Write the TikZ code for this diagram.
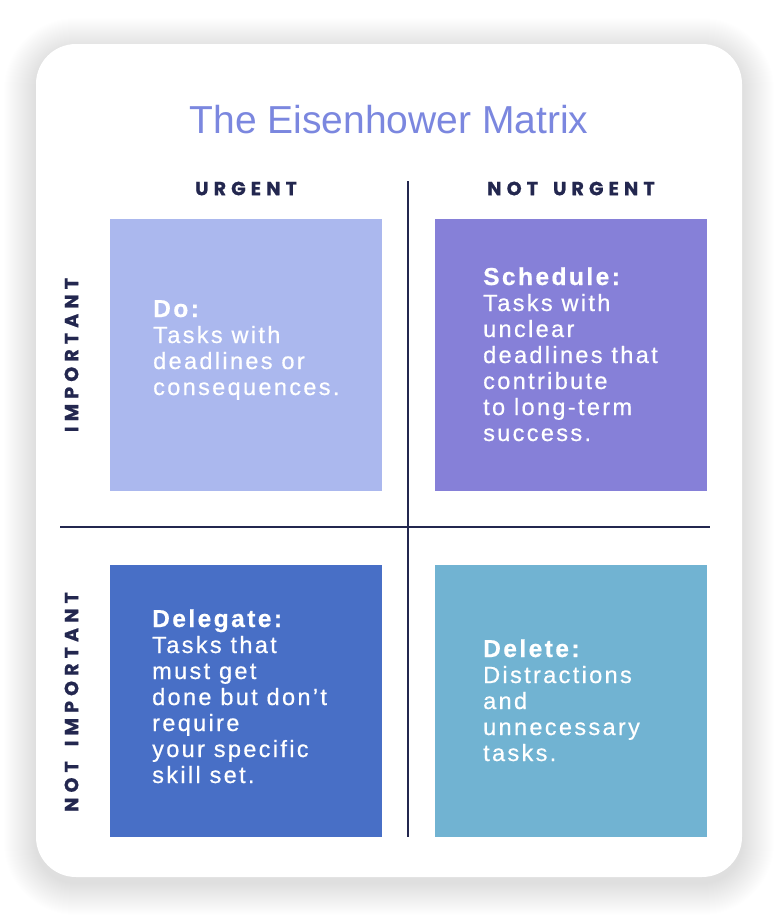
\documentclass[tikz,border=0pt]{standalone}
\usepackage{fontspec}
\setmainfont{Liberation Sans}
\newfontfamily\bodyfont[LetterSpace=10,FakeBold=0.6]{Liberation Sans}
\newfontfamily\labelfont[LetterSpace=27,FakeBold=0.8]{Poppins}
\newfontfamily\titlefont{Liberation Sans}
\definecolor{doC}{HTML}{ABB8EE}
\definecolor{schedC}{HTML}{8680D8}
\definecolor{delegC}{HTML}{486FC6}
\definecolor{delC}{HTML}{71B3D2}
\definecolor{titleC}{HTML}{7B87DF}
\definecolor{navy}{HTML}{23274F}
\newcommand{\qhead}[1]{{\fontsize{24.5}{26}\selectfont\bfseries #1}}
\newcommand{\wordgap}{\hspace*{15pt}}
\tikzset{
  quad/.style={draw=none, minimum width=272pt, minimum height=272pt, inner sep=0pt},
  bodytext/.style={text=white, inner sep=0pt, align=left, anchor=base west,
    font=\bodyfont\fontsize{23.5}{26}\selectfont},
  axislabel/.style={text=navy, inner sep=0pt, font=\labelfont\bfseries\fontsize{19}{22}\selectfont},
  axisline/.style={draw=navy, line width=2pt},
}
\begin{document}
\begin{tikzpicture}[x=1pt,y=-1pt]
\useasboundingbox (0,0) rectangle (778,922);
\fill[white] (0,0) rectangle (778,922);
% shadow
\foreach \i in {1,...,32}{
  \fill[black, opacity=0.0026, rounded corners=40pt+\i pt] (36-\i,50-\i) rectangle (742+\i,883+\i);
}
\fill[white, rounded corners=40pt] (36,44) rectangle (742,877);
% title
\node[inner sep=0pt, anchor=base, text=titleC, font=\titlefont\fontsize{39}{44}\selectfont] (title) at (389,133) {The Eisenhower Matrix};
% quadrants
\node[quad, fill=doC] (do) at (246,355) {};
\node[quad, fill=schedC] (sched) at (571,355) {};
\node[quad, fill=delegC] (deleg) at (246,700.5) {};
\node[quad, fill=delC] (del) at (571,700.5) {};
% axis labels
\node[axislabel] (urg) at (246,188.5) {URGENT};
\node[axislabel] (nurg) at (571,188.5) {NOT\wordgap URGENT};
\node[axislabel, rotate=90] (imp) at (71.5,355) {IMPORTANT};
\node[axislabel, rotate=90] (nimp) at (71.5,702) {NOT\wordgap IMPORTANT};
% axes
\coordinate (vtop) at (408,181);
\coordinate (vbot) at (408,837);
\coordinate (hl) at (60,527);
\coordinate (hr) at (710,527);
\draw[axisline] (vtop) -- (vbot);
\draw[axisline] (hl) -- (hr);
% texts (base anchor = last line)
\node[bodytext] (dotext) at (153,395) {\qhead{Do:}\\Tasks with\\deadlines or\\consequences.};
\node[bodytext] (schedtext) at (483,441) {\qhead{Schedule:}\\Tasks with\\unclear\\deadlines that\\contribute\\to long-term\\success.};
\node[bodytext] (delegtext) at (152,783) {\qhead{Delegate:}\\Tasks that\\must get\\done but don’t\\require\\your specific\\skill set.};
\node[bodytext] (deltext) at (483,761) {\qhead{Delete:}\\Distractions\\and\\unnecessary\\tasks.};
\end{tikzpicture}
\end{document}
